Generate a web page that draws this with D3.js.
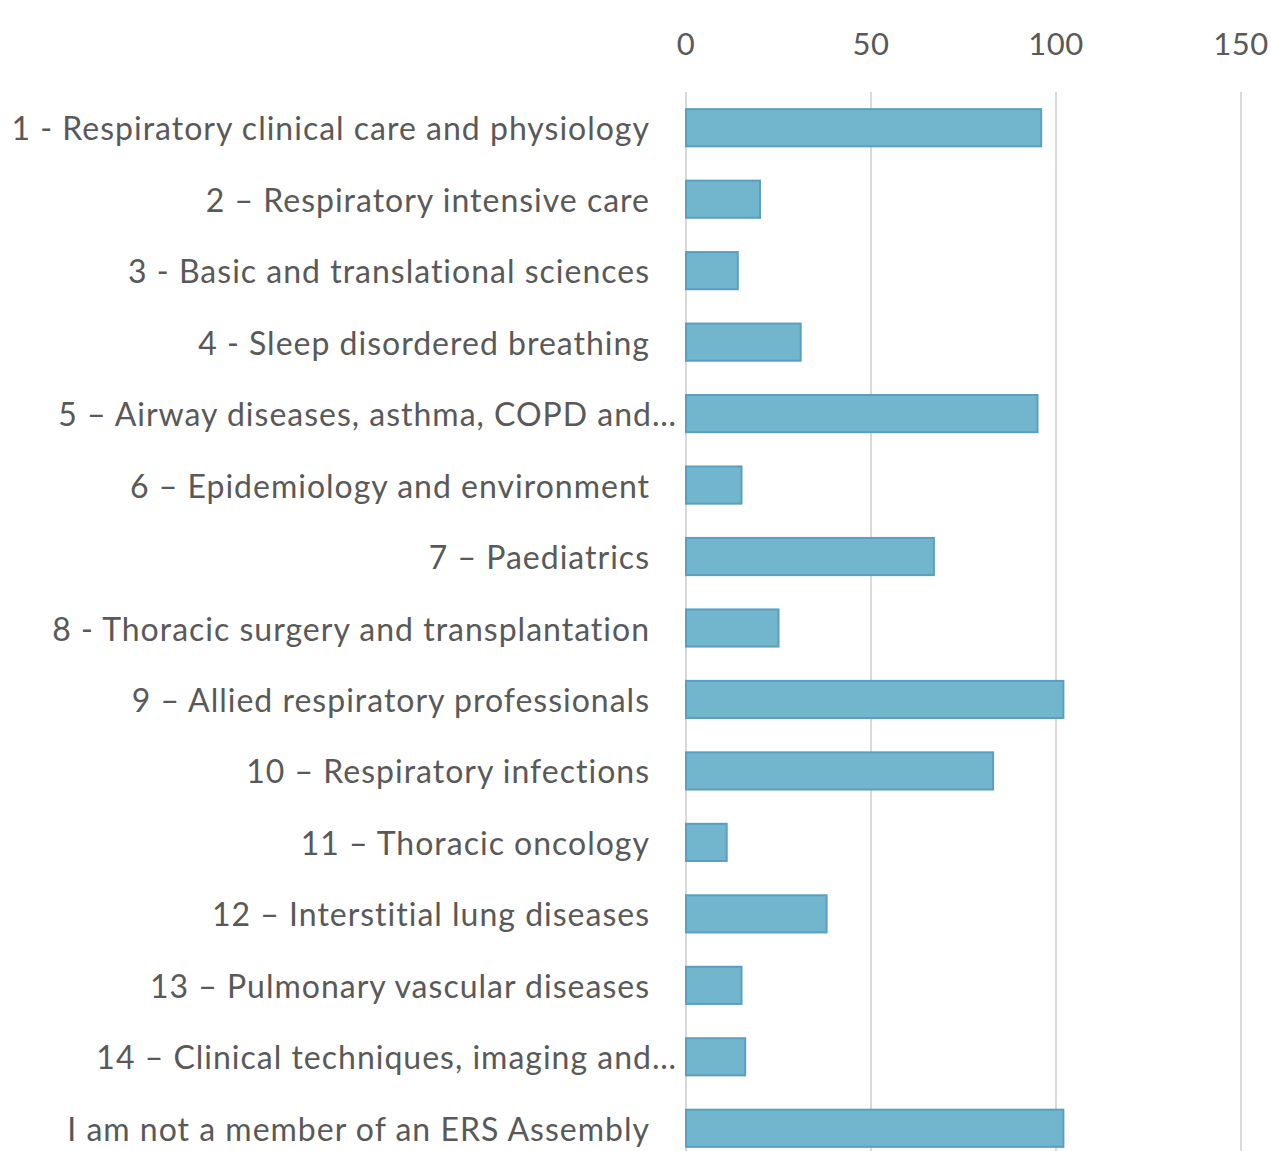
<!DOCTYPE html>
<html>
<head>
<meta charset="utf-8">
<script src="https://cdn.jsdelivr.net/npm/d3@7"></script>
<style>
  body { margin: 0; background: #fff; }
  text { font-family: Lato, "Open Sans", sans-serif; fill: #595959; }
</style>
</head>
<body>
<svg width="1271" height="1151"></svg>
<script>
// category labels, top to bottom
var categories = [
  "1 - Respiratory clinical care and physiology",
  "2 \u2013 Respiratory intensive care",
  "3 - Basic and translational sciences",
  "4 - Sleep disordered breathing",
  "5 \u2013 Airway diseases, asthma, COPD and\u2026",
  "6 \u2013 Epidemiology and environment",
  "7 \u2013 Paediatrics",
  "8 - Thoracic surgery and transplantation",
  "9 \u2013 Allied respiratory professionals",
  "10 \u2013 Respiratory infections",
  "11 \u2013 Thoracic oncology",
  "12 \u2013 Interstitial lung diseases",
  "13 \u2013 Pulmonary vascular diseases",
  "14 \u2013 Clinical techniques, imaging and\u2026",
  "I am not a member of an ERS Assembly"
];

// respondents per assembly
var values = [96, 20, 14, 31, 95, 15, 67, 25, 102, 83, 11, 38, 15, 16, 102];

// x axis ticks
var xTicks = [0, 50, 100, 150];

var svg = d3.select("svg");

var x = d3.scaleLinear().domain([0, 150]).range([686, 1241]);
var y = d3.scaleBand().domain(categories).range([92, 1164]).paddingInner(0.48).paddingOuter(0.24);

// gridlines
svg.append("g")
  .selectAll("line")
  .data(xTicks)
  .join("line")
  .attr("x1", d => x(d)).attr("x2", d => x(d))
  .attr("y1", 92).attr("y2", 1164)
  .attr("stroke", "#d9d9d9")
  .attr("stroke-width", 2);

// tick labels on top
svg.append("g")
  .selectAll("text")
  .data(xTicks)
  .join("text")
  .attr("x", d => x(d))
  .attr("y", 44)
  .attr("dy", "0.36em")
  .attr("text-anchor", "middle")
  .attr("font-size", 31)
  .attr("letter-spacing", 0.5)
  .text(d => d);

// bars
svg.append("g")
  .selectAll("rect")
  .data(values)
  .join("rect")
  .attr("x", x(0))
  .attr("y", (d, i) => y(categories[i]))
  .attr("width", d => x(d) - x(0))
  .attr("height", y.bandwidth())
  .attr("fill", "#71b6cd")
  .attr("stroke", "#5a9fc2")
  .attr("stroke-width", 2);

// category labels
svg.append("g")
  .selectAll("text")
  .data(categories)
  .join("text")
  .attr("x", d => d.endsWith("\u2026") ? 677 : 650)
  .attr("y", d => y(d) + y.bandwidth() / 2 + 1)
  .attr("dy", "0.36em")
  .attr("text-anchor", "end")
  .attr("font-size", 32)
  .attr("letter-spacing", 1)
  .text(d => d);
</script>
</body>
</html>
